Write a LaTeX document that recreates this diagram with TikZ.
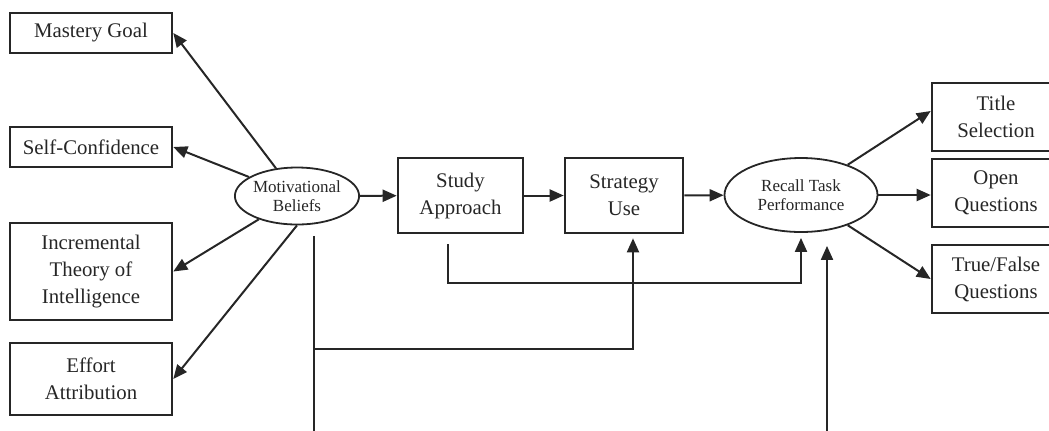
\documentclass[tikz,border=0pt]{standalone}
\usepackage{fontspec}
\setmainfont{Liberation Serif}
\usetikzlibrary{arrows.meta,shapes.geometric}
\begin{document}
\begin{tikzpicture}[x=0.5pt, y=-0.5pt, line width=1pt, color=black!85,
  box/.style={draw, line width=1.3pt, inner sep=0pt, align=center, font=\fontsize{10.4}{13.5}\selectfont},
  oval/.style={draw, ellipse, line width=0.9pt, inner sep=0pt, align=center, font=\fontsize{8.5}{9.3}\selectfont},
  arr/.style={-{Triangle[length=7pt,width=6pt]}}]
  \useasboundingbox (0,0) rectangle (1049,430);
  \clip (0,0) rectangle (1049,430);
  % outcomes of the beliefs
  \node[box, minimum width=81pt, minimum height=20pt] (mastery) at (91,33) {Mastery Goal};
  \node[box, minimum width=81pt, minimum height=20pt] (selfconf) at (91,147) {Self-Confidence};
  \node[box, minimum width=81pt, minimum height=48.5pt] (increm) at (91,271.5) {Incremental\\Theory of\\Intelligence};
  \node[box, minimum width=81pt, minimum height=36pt] (effort) at (91,379) {Effort\\Attribution};
  \node[oval, minimum width=60pt, minimum height=28.5pt] (motiv) at (297,196) {Motivational\\Beliefs};
  % main chain
  \node[box, minimum width=62.5pt, minimum height=37.5pt] (study) at (460.5,195.5) {Study\\Approach};
  \node[box, minimum width=59pt, minimum height=37.5pt] (strategy) at (624,195.5) {Strategy\\Use};
  \node[oval, minimum width=76.5pt, minimum height=37pt] (recall) at (801,195) {Recall Task\\Performance};
  \node[box, minimum width=64pt, minimum height=34pt] (title) at (996,117) {Title\\Selection};
  \node[box, minimum width=64pt, minimum height=34pt] (openq) at (996,193) {Open\\Questions};
  \node[box, minimum width=64pt, minimum height=34pt] (truefalse) at (996,279) {True/False\\Questions};
  \draw[arr] (motiv) -- (mastery.east);
  \draw[arr] (motiv) -- (selfconf.east);
  \draw[arr] (motiv) -- (increm.east);
  \draw[arr] (motiv.south) -- (effort.east);
  \draw[arr] (motiv) -- (study);
  \draw[arr] (study) -- (strategy);
  \draw[arr] (strategy) -- (recall);
  \draw[arr] (recall) -- ([yshift=3pt]title.west);
  \draw[arr] (recall.east) -- (recall.east -| openq.west);
  \draw[arr] (recall) -- (truefalse.west);
  % feedback lines
  \coordinate (mjoin) at (314,349);
  \coordinate (mend) at (314,440);
  \coordinate (extin) at (827,440);
  \draw[arr] ([xshift=-6.5pt,yshift=-5pt]study.south) -- ++(0,39) -| ([yshift=-2.5pt]recall.south);
  \draw ([xshift=8.5pt,yshift=-5.25pt]motiv.south) -- (mend);
  \draw[arr] (mjoin) -| ([xshift=4.5pt,yshift=-2pt]strategy.south);
  \draw[arr] (extin) -- ([xshift=13pt,yshift=-6.5pt]recall.south);
\end{tikzpicture}
\end{document}
